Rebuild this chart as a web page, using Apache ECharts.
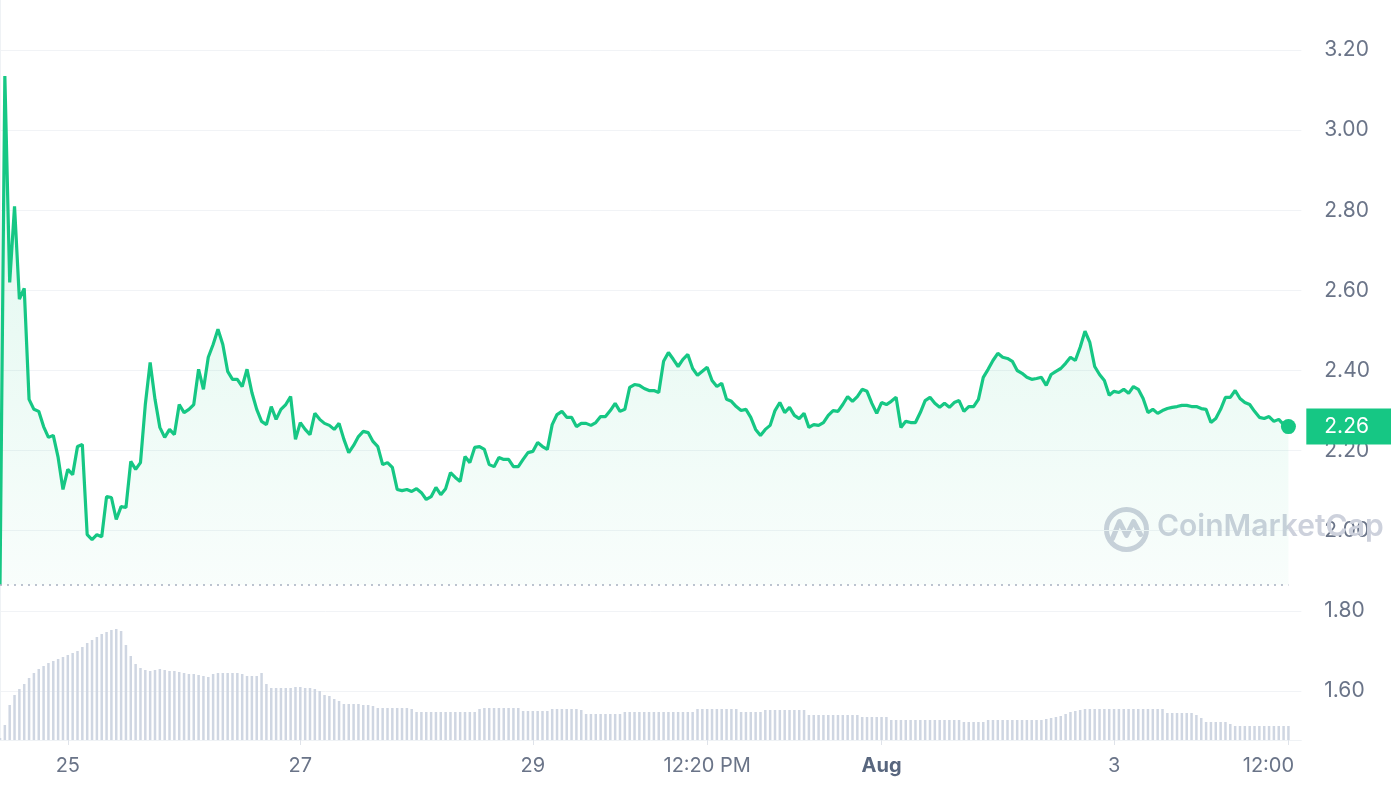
<!DOCTYPE html>
<html><head><meta charset="utf-8">
<script src="https://cdn.jsdelivr.net/npm/echarts@6/dist/echarts.min.js"></script>
<style>html,body{margin:0;padding:0;background:#fff}#c{width:1394px;height:792px}</style>
</head><body><div id="c"></div>
<script>
// hourly samples starting Jul 24 10:00, ending Aug 4 12:00
const prices = [
1.865,3.135,2.620,2.810,2.578,2.605,2.328,2.303,2.298,2.260,
2.233,2.238,2.183,2.103,2.153,2.140,2.210,2.215,1.990,1.978,
1.990,1.985,2.085,2.083,2.028,2.060,2.058,2.173,2.153,2.170,
2.315,2.420,2.328,2.258,2.233,2.253,2.240,2.315,2.295,2.303,
2.315,2.403,2.353,2.433,2.465,2.503,2.465,2.398,2.378,2.378,
2.360,2.403,2.345,2.303,2.273,2.265,2.310,2.278,2.303,2.315,
2.335,2.228,2.270,2.253,2.240,2.293,2.278,2.268,2.263,2.253,
2.268,2.228,2.195,2.213,2.235,2.248,2.245,2.223,2.210,2.165,
2.170,2.158,2.103,2.100,2.103,2.098,2.105,2.095,2.078,2.085,
2.108,2.090,2.105,2.145,2.133,2.123,2.185,2.170,2.208,2.210,
2.203,2.165,2.160,2.183,2.178,2.178,2.160,2.160,2.178,2.195,
2.198,2.220,2.210,2.203,2.265,2.290,2.298,2.283,2.283,2.260,
2.268,2.268,2.263,2.270,2.285,2.285,2.300,2.318,2.298,2.303,
2.358,2.365,2.363,2.355,2.350,2.350,2.345,2.423,2.445,2.428,
2.410,2.428,2.440,2.405,2.388,2.398,2.408,2.375,2.360,2.368,
2.328,2.323,2.310,2.300,2.303,2.283,2.253,2.238,2.253,2.263,
2.300,2.320,2.295,2.308,2.288,2.280,2.293,2.258,2.265,2.263,
2.270,2.288,2.300,2.298,2.315,2.335,2.323,2.335,2.353,2.348,
2.318,2.293,2.320,2.315,2.323,2.333,2.258,2.273,2.270,2.270,
2.295,2.325,2.333,2.318,2.308,2.318,2.308,2.320,2.325,2.298,
2.310,2.310,2.328,2.383,2.403,2.425,2.443,2.433,2.430,2.423,
2.400,2.393,2.383,2.378,2.380,2.383,2.363,2.390,2.398,2.405,
2.418,2.433,2.425,2.458,2.498,2.470,2.410,2.390,2.375,2.338,
2.348,2.345,2.353,2.343,2.360,2.353,2.330,2.295,2.303,2.293,
2.300,2.305,2.308,2.310,2.313,2.313,2.310,2.310,2.305,2.303,
2.270,2.280,2.303,2.333,2.333,2.350,2.330,2.320,2.315,2.298,
2.283,2.280,2.285,2.273,2.278,2.265,2.260
];
// hourly volume, millions USD
const volumes = [
1,7.5,17.5,22.5,25.5,28,31,33.5,35.5,37,
38.5,39.5,40.5,41.5,42.5,43.5,44.5,46.5,48.5,50,
51.5,53,54,55,55.5,54.5,47.5,42,38,36,
35,34.5,35,35.5,35,34.5,34.5,34,33.5,33,
33,32.5,32,31.5,33,33.5,33.5,33.5,33.5,33.5,
33,32,32,32,33.5,28,26,26,26,26,
26,26.5,26.5,26,26,25.5,24.5,22.5,22,20.5,
19.5,18,18,18,18,17.5,17.5,17,16,16,
16,16,16,16,16,15.5,14,14,14,14,
14,14,14,14,14,14,14,14,14,15.5,
16,16,16,16,16,16,16,16,14.5,14.5,
14.5,14.5,14.5,14.5,15.5,15.5,15.5,15.5,15.5,15.5,
15,13,13,13,13,13,13,13,13,14,
14,14,14,14,14,14,14,14,14,14,
14,14,14,14,15.5,15.5,15.5,15.5,15.5,15.5,
15.5,15.5,15.5,14,14,14,14,14,15,15,
15,15,15,15,15,15,15,12.5,12.5,12.5,
12.5,12.5,12.5,12.5,12.5,12.5,12.5,12.5,11.5,11.5,
11.5,11.5,11.5,11.5,10,10,10,10,10,10,
10,10,10,10,10,10,10,10,10,9,
9,9,9,9,10,10,10,10,10,10,
10,10,10,10,10,10,10.5,11,11.5,12,
13,14,14.5,15,15.5,15.5,15.5,15.5,15.5,15.5,
15.5,15.5,15.5,15.5,15.5,15.5,15.5,15.5,15.5,15.5,
15.5,13.5,13.5,13.5,13.5,13.5,13.5,12.5,11,9,
9,9,9,9,8,7,7,7,7,7,
7,7,7,7,7,7,7
];
const xTickHours = [14, 62, 110, 146, 182, 230, 266];
const xTickLabels = ['25', '27', '29', '12:20 PM', 'Aug', '3', '12:00'];
const yTicks = [1.6, 1.8, 2.0, 2.2, 2.4, 2.6, 2.8, 3.0, 3.2];

const GREEN = '#16c784';
const last = prices[prices.length - 1];
const lastIdx = prices.length - 1;

const chart = echarts.init(document.getElementById('c'), null, {renderer: 'canvas'});
chart.setOption({
  animation: false,
  backgroundColor: '#fff',
  textStyle: {fontFamily: 'Inter'},
  grid: {left: 0, right: 84, top: 0, bottom: 52, containLabel: false},
  xAxis: {
    type: 'value', min: 0, max: 268.66,
    axisLine: {show: true, lineStyle: {color: '#eff2f5', width: 1}},
    axisTick: {show: true, customValues: xTickHours, length: 5, lineStyle: {color: '#dfe3ea'}},
    splitLine: {show: false},
    axisLabel: {
      customValues: xTickHours, margin: 16,
      formatter: v => {
        const k = xTickHours.indexOf(Math.round(v));
        const t = k >= 0 ? xTickLabels[k] : '';
        if (t === 'Aug') return '{b|' + t + '}';
        if (k === xTickHours.length - 1) return '{e|' + t + '}';
        return '{n|' + t + '}';
      },
      rich: {
        n: {fontSize: 20, color: '#6a7488', fontFamily: 'Inter'},
        b: {fontSize: 20, color: '#58667e', fontWeight: 700, fontFamily: 'Inter'},
        e: {fontSize: 20, color: '#6a7488', fontFamily: 'Inter', padding: [0, 40, 0, 0]}
      }
    }
  },
  yAxis: [{
    type: 'value', position: 'right', min: 1.4775, max: 3.325,
    axisLine: {show: true, lineStyle: {color: '#eff2f5', width: 1}},
    axisTick: {show: false, customValues: yTicks},
    splitLine: {show: true, lineStyle: {color: '#f1f3f6', width: 1}},
    axisLabel: {
      customValues: yTicks.concat([last]), margin: 5,
      formatter: v => (Math.abs(v - last) < 1e-9 ? '{hl|' : '{n|') + v.toFixed(2) + '}',
      rich: {
        n: {fontSize: 21, color: '#6a7488', fontFamily: 'Inter', padding: [0, 0, 0, 18]},
        hl: {fontSize: 21, color: '#ffffff', fontFamily: 'Inter', backgroundColor: GREEN,
             padding: [8, 22, 7, 18], lineHeight: 21}
      }
    }
  }, {
    type: 'value', min: 0, max: 370, show: false, splitLine: {show: false}
  }],
  graphic: [{
    type: 'group', left: 1104, top: 507, z: 1, silent: true,
    children: [
      {type: 'circle', shape: {cx: 23, cy: 23, r: 20}, style: {fill: 'none', stroke: '#cdd1dc', lineWidth: 5}},
      {type: 'polyline', shape: {points: [[9, 32], [16, 15], [23, 29], [30, 15], [37, 28]]},
       style: {stroke: '#cdd1dc', lineWidth: 5, fill: 'none', lineJoin: 'round', lineCap: 'round'}}
    ]
  }, {
    type: 'text', left: 1157, top: 512, z: 1, silent: true,
    style: {text: 'CoinMarketCap', font: '600 30px Inter', fill: '#cdd1dc'}
  }],
  series: [{
    type: 'bar', yAxisIndex: 1, barWidth: 2.5, silent: true,
    itemStyle: {color: '#cfd6e2'},
    data: volumes.map((v, i) => [i, v])
  }, {
    type: 'line', showSymbol: false, silent: true,
    lineStyle: {color: GREEN, width: 3.2},
    areaStyle: {
      origin: prices[0],
      color: {type: 'linear', x: 0, y: 0, x2: 0, y2: 1, colorStops: [
        {offset: 0, color: 'rgba(22,199,132,0.20)'},
        {offset: 0.5, color: 'rgba(22,199,132,0.13)'},
        {offset: 1, color: 'rgba(22,199,132,0.04)'}
      ]}
    },
    data: prices.map((v, i) => [i, v]),
    markLine: {
      silent: true, symbol: 'none', label: {show: false},
      lineStyle: {color: '#a7b0c0', type: [2, 5], width: 1.5},
      data: [[{coord: [0, prices[0]]}, {coord: [lastIdx, prices[0]]}]]
    }
  }, {
    type: 'scatter', silent: true, symbolSize: 15,
    itemStyle: {color: GREEN, opacity: 1},
    data: [[lastIdx, last]]
  }]
});
</script>
</body></html>
